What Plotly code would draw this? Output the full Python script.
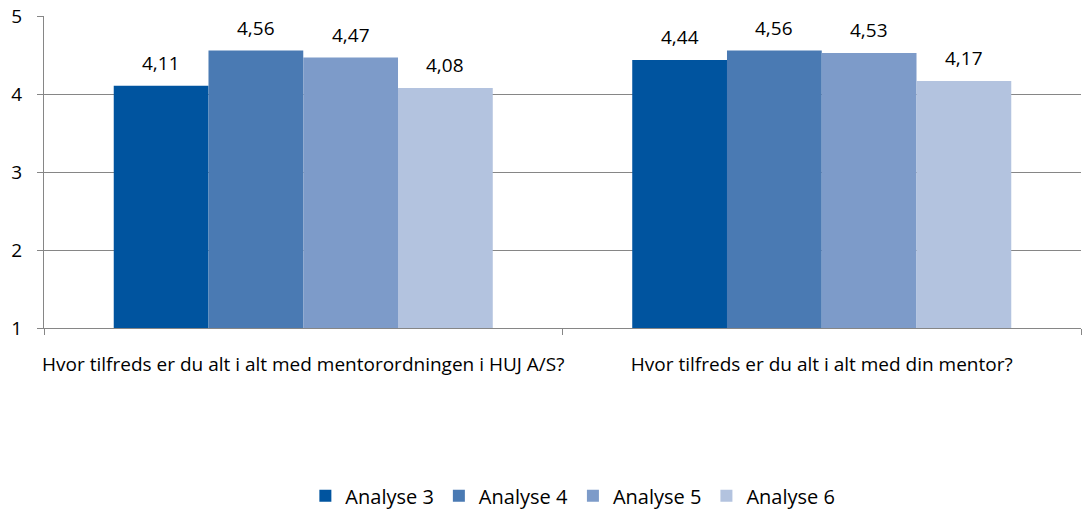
import plotly.graph_objects as go

categories = ["Hvor tilfreds er du alt i alt med mentorordningen i HUJ A/S?",
              "Hvor tilfreds er du alt i alt med din mentor?"]
series_names = ["Analyse 3", "Analyse 4", "Analyse 5", "Analyse 6"]
analyse_3 = [4.11, 4.44]
analyse_4 = [4.56, 4.56]
analyse_5 = [4.47, 4.53]
analyse_6 = [4.08, 4.17]
colors = ["#00549F", "#4A7AB3", "#7D9BC9", "#B3C3DF"]
y_ticks = [1, 2, 3, 4, 5]

FONT = "Open Sans"
FS = 19
W, H = 1083, 509
ML, MR, MT, MB = 44, 2, 16, 181
BARGAP = 0.269
all_series = [analyse_3, analyse_4, analyse_5, analyse_6]

fig = go.Figure()
for name, vals, c in zip(series_names, all_series, colors):
    fig.add_trace(go.Bar(
        name=name, x=categories, y=vals, marker=dict(color=c, line=dict(width=0)),
    ))

# data labels as annotations above each bar
plot_w = W - ML - MR
cat_w = plot_w / len(categories)
bar_w = cat_w * (1 - BARGAP) / len(series_names)
annotations = []
for i, vals in enumerate(all_series):
    for cat, v in zip(categories, vals):
        annotations.append(dict(
            x=cat, y=v, xref="x", yref="y", text=f"{v:.2f}".replace(".", ","),
            showarrow=False, xshift=(i - 1.5) * bar_w, yshift=23, yanchor="middle",
            font=dict(family=FONT, size=FS, color="#000000"),
        ))

fig.update_layout(
    width=W, height=H,
    margin=dict(l=ML, r=MR, t=MT, b=MB, autoexpand=False),
    paper_bgcolor="white", plot_bgcolor="white",
    barmode="group", bargap=BARGAP, bargroupgap=0,
    separators=",.",
    font=dict(family=FONT, size=FS, color="#000000"),
    showlegend=True,
    legend=dict(orientation="h", x=0.51, xanchor="center", y=-0.538, yanchor="middle",
                font=dict(family=FONT, size=20), itemwidth=30, traceorder="normal"),
    annotations=annotations,
)
fig.update_xaxes(
    type="category", showline=True, linecolor="#868686", linewidth=1,
    ticks="outside", tickson="boundaries", ticklen=6, tickcolor="#868686",
    showgrid=False, tickfont=dict(family=FONT, size=FS), ticklabelstandoff=19,
    tickangle=0, automargin=False,
)
fig.update_yaxes(
    range=[1, 5.004], tickvals=y_ticks, showline=True, linecolor="#868686", linewidth=1,
    ticks="outside", ticklen=6, tickcolor="#868686",
    showgrid=True, gridcolor="#868686", gridwidth=1, zeroline=False,
    tickfont=dict(family=FONT, size=FS), ticklabelstandoff=11, automargin=False,
    ticklabeloverflow="allow",
)
fig.write_html("out.html", config={"displayModeBar": False},
               post_script="document.body.style.margin='0';document.body.style.padding='0';")
